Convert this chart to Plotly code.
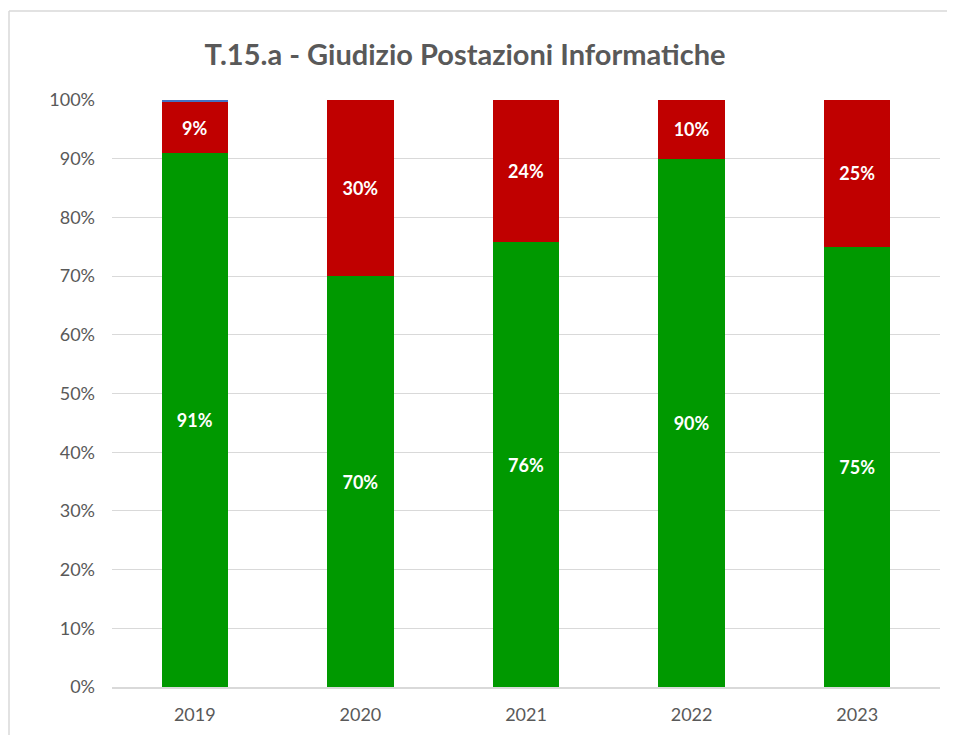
import plotly.graph_objects as go

anni = ["2019", "2020", "2021", "2022", "2023"]
positivo = [0.909, 0.70, 0.758, 0.90, 0.75]
negativo = [0.088, 0.30, 0.242, 0.10, 0.25]
altro = [0.003, 0, 0, 0, 0]

FONT = "Lato"
GRIGIO = "#595959"

fig = go.Figure()

fig.add_trace(go.Bar(
    x=anni, y=positivo, name="Positivo",
    marker=dict(color="#009900", line=dict(width=0)),
    texttemplate="<b>%{y:.0%}</b>", textposition="inside",
    insidetextanchor="middle",
    textfont=dict(color="white", size=18, family=FONT),
))
fig.add_trace(go.Bar(
    x=anni, y=negativo, name="Negativo",
    marker=dict(color="#c00000", line=dict(width=0)),
    texttemplate="<b>%{y:.0%}</b>", textposition="inside",
    insidetextanchor="middle",
    textfont=dict(color="white", size=18, family=FONT),
))
fig.add_trace(go.Bar(
    x=anni, y=altro, name="Altro",
    marker=dict(color="#4472c4", line=dict(width=0)),
    textposition="none",
))

# cornice dell'area grafico
fig.add_shape(type="line", xref="paper", yref="paper",
              x0=-0.1244, x1=1.1, y0=1.1516, y1=1.1516,
              line=dict(color="#d9d9d9", width=1.5))
fig.add_shape(type="line", xref="paper", yref="paper",
              x0=-0.1244, x1=-0.1244, y0=1.1516, y1=-0.2,
              line=dict(color="#d9d9d9", width=1.5))

fig.update_layout(
    barmode="stack",
    bargap=0.6,
    width=939, height=727,
    paper_bgcolor="white", plot_bgcolor="white",
    showlegend=False,
    title=dict(text="<b>T.15.a - Giudizio Postazioni Informatiche</b>",
               x=0.4867, xanchor="center", y=0.9354, yanchor="middle",
               font=dict(family=FONT, size=29, color=GRIGIO)),
    font=dict(family=FONT, color=GRIGIO),
    margin=dict(l=104, r=7, t=92, b=48),
    xaxis=dict(showline=True, linecolor="#d9d9d9", linewidth=1.5,
               tickfont=dict(size=18, color=GRIGIO), ticks="",
               ticklabelstandoff=11),
    yaxis=dict(range=[0, 1.0], dtick=0.1, tickformat=".0%",
               gridcolor="#d9d9d9", gridwidth=1, zeroline=False,
               ticks="", ticklen=0, ticklabelstandoff=16,
               tickfont=dict(size=18, color=GRIGIO)),
)

fig.write_html("out.html", config={"displayModeBar": False})
